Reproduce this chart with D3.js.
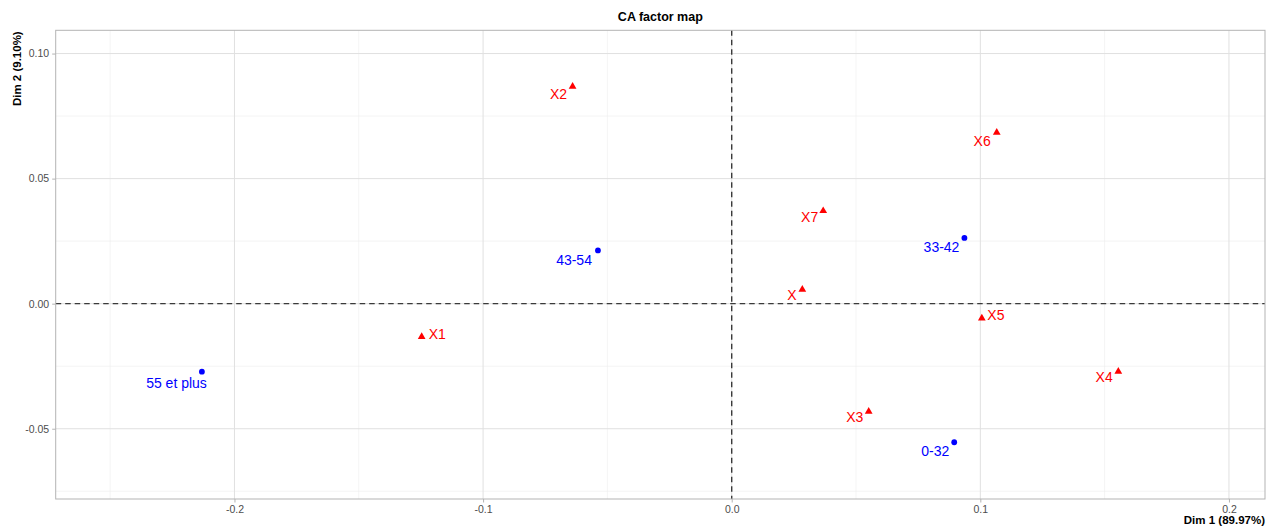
<!DOCTYPE html>
<html>
<head>
<meta charset="utf-8">
<script src="https://cdn.jsdelivr.net/npm/d3@7"></script>
<style>
  html, body { margin: 0; padding: 0; background: #fff; }
  svg { display: block; font-family: "Liberation Sans", Arial, Helvetica, sans-serif; }
</style>
</head>
<body>
<svg id="chart" width="1276" height="531"></svg>
<script>
// ---- data ----
const rowNames = ["55 et plus", "43-54", "33-42", "0-32"];
const rowDim1 = [-0.2131, -0.0538, 0.0936, 0.0895];
const rowDim2 = [-0.0272, 0.0213, 0.0263, -0.0554];

const colNames = ["X2", "X6", "X7", "X", "X3", "X4", "X1", "X5"];
const colDim1 = [-0.0640, 0.1066, 0.0368, 0.0284, 0.0551, 0.1555, -0.1247, 0.1006];
const colDim2 = [0.0868, 0.0684, 0.0371, 0.0057, -0.0431, -0.0271, -0.0132, -0.0058];

const xTicks = [-0.2, -0.1, 0.0, 0.1, 0.2];
const xMinor = [-0.25, -0.15, -0.05, 0.05, 0.15];
const yTicks = [-0.05, 0.00, 0.05, 0.10];
const yMinor = [-0.075, -0.025, 0.025, 0.075];
const xTickLabels = ["-0.2", "-0.1", "0.0", "0.1", "0.2"];
const yTickLabels = ["-0.05", "0.00", "0.05", "0.10"];

const titleText = "CA factor map";
const xTitle = "Dim 1 (89.97%)";
const yTitle = "Dim 2 (9.10%)";

// label placement (repel-like offsets, layout only)
const rowLabelOffset = [[5, 11, "end"], [-6, 10, "end"], [-5, 9, "end"], [-5, 8.5, "end"]];
const colLabelOffset = [[-5.5, 7, "end"], [-6, 8, "end"], [-5, 6.5, "end"], [-5.6, 5.5, "end"],
                        [-5.4, 5.5, "end"], [-5.6, 5.5, "end"], [7, -3, "start"], [5.5, -3.5, "start"]];

// ---- layout ----
const svg = d3.select("#chart");
const pLeft = 55.7, pRight = 1265, pTop = 30.3, pBottom = 499;

const x = d3.scaleLinear().domain([-0.2719, 0.2145]).range([pLeft, pRight]);
const y = d3.scaleLinear().domain([-0.0781, 0.1093]).range([pBottom, pTop]);

const g = svg.append("g");

// minor grid
g.selectAll(".vminor").data(xMinor).enter().append("line")
  .attr("x1", d => x(d)).attr("x2", d => x(d)).attr("y1", pTop).attr("y2", pBottom)
  .attr("stroke", "#ededed").attr("stroke-width", 0.6);
g.selectAll(".hminor").data(yMinor).enter().append("line")
  .attr("y1", d => y(d)).attr("y2", d => y(d)).attr("x1", pLeft).attr("x2", pRight)
  .attr("stroke", "#ededed").attr("stroke-width", 0.6);
// major grid
g.selectAll(".vmajor").data(xTicks).enter().append("line")
  .attr("x1", d => x(d)).attr("x2", d => x(d)).attr("y1", pTop).attr("y2", pBottom)
  .attr("stroke", "#e0e0e0").attr("stroke-width", 1);
g.selectAll(".hmajor").data(yTicks).enter().append("line")
  .attr("y1", d => y(d)).attr("y2", d => y(d)).attr("x1", pLeft).attr("x2", pRight)
  .attr("stroke", "#e0e0e0").attr("stroke-width", 1);

// dashed zero lines
g.append("line").attr("x1", pLeft).attr("x2", pRight).attr("y1", y(0)).attr("y2", y(0))
  .attr("stroke", "#3a3a3a").attr("stroke-width", 1.4).attr("stroke-dasharray", "5.5,4");
g.append("line").attr("x1", x(0)).attr("x2", x(0)).attr("y1", pTop).attr("y2", pBottom)
  .attr("stroke", "#3a3a3a").attr("stroke-width", 1.4).attr("stroke-dasharray", "5.5,4");

// border
g.append("rect").attr("x", pLeft).attr("y", pTop).attr("width", pRight - pLeft).attr("height", pBottom - pTop)
  .attr("fill", "none").attr("stroke", "#b3b3b3").attr("stroke-width", 1);

// axes
const xAxis = d3.axisBottom(x).tickValues(xTicks).tickFormat((d, i) => xTickLabels[i]).tickSize(3.5).tickPadding(3.5);
const yAxis = d3.axisLeft(y).tickValues(yTicks).tickFormat((d, i) => yTickLabels[i]).tickSize(3.5).tickPadding(3);
const gx = svg.append("g").attr("transform", `translate(0,${pBottom})`).call(xAxis);
const gy = svg.append("g").attr("transform", `translate(${pLeft},0)`).call(yAxis);
[gx, gy].forEach(a => {
  a.select(".domain").remove();
  a.selectAll(".tick line").attr("stroke", "#b3b3b3");
  a.selectAll(".tick text").attr("fill", "#4d4d4d").style("font-size", "10.5px")
    .style("font-family", "'Liberation Sans', Arial, sans-serif");
});

// row points (blue circles)
svg.selectAll(".rowpt").data(rowNames).enter().append("circle")
  .attr("cx", (d, i) => x(rowDim1[i])).attr("cy", (d, i) => y(rowDim2[i]))
  .attr("r", 2.9).attr("fill", "#0000ff");
svg.selectAll(".rowlab").data(rowNames).enter().append("text")
  .attr("x", (d, i) => x(rowDim1[i]) + rowLabelOffset[i][0])
  .attr("y", (d, i) => y(rowDim2[i]) + rowLabelOffset[i][1])
  .attr("text-anchor", (d, i) => rowLabelOffset[i][2])
  .attr("dominant-baseline", "central")
  .attr("fill", "#0000ff").style("font-size", "14px")
  .text(d => d);

// column points (red triangles)
const tri = d3.symbol().type(d3.symbolTriangle).size(26);
svg.selectAll(".colpt").data(colNames).enter().append("path")
  .attr("d", tri)
  .attr("transform", (d, i) => `translate(${x(colDim1[i])},${y(colDim2[i])})`)
  .attr("fill", "#ff0000");
svg.selectAll(".collab").data(colNames).enter().append("text")
  .attr("x", (d, i) => x(colDim1[i]) + colLabelOffset[i][0])
  .attr("y", (d, i) => y(colDim2[i]) + colLabelOffset[i][1])
  .attr("text-anchor", (d, i) => colLabelOffset[i][2])
  .attr("dominant-baseline", "central")
  .attr("fill", "#ff0000").style("font-size", "14px")
  .text(d => d);

// titles
svg.append("text").attr("x", (pLeft + pRight) / 2).attr("y", 20.5)
  .attr("text-anchor", "middle").style("font-size", "12.5px").style("font-weight", "bold")
  .attr("fill", "#000").text(titleText);
svg.append("text").attr("x", pRight).attr("y", 524)
  .attr("text-anchor", "end").style("font-size", "11.5px").style("font-weight", "bold")
  .attr("fill", "#000").text(xTitle);
svg.append("text").attr("transform", `translate(20.5,${pTop + 1}) rotate(-90)`)
  .attr("text-anchor", "end").style("font-size", "11.5px").style("font-weight", "bold")
  .attr("fill", "#000").text(yTitle);
</script>
</body>
</html>
